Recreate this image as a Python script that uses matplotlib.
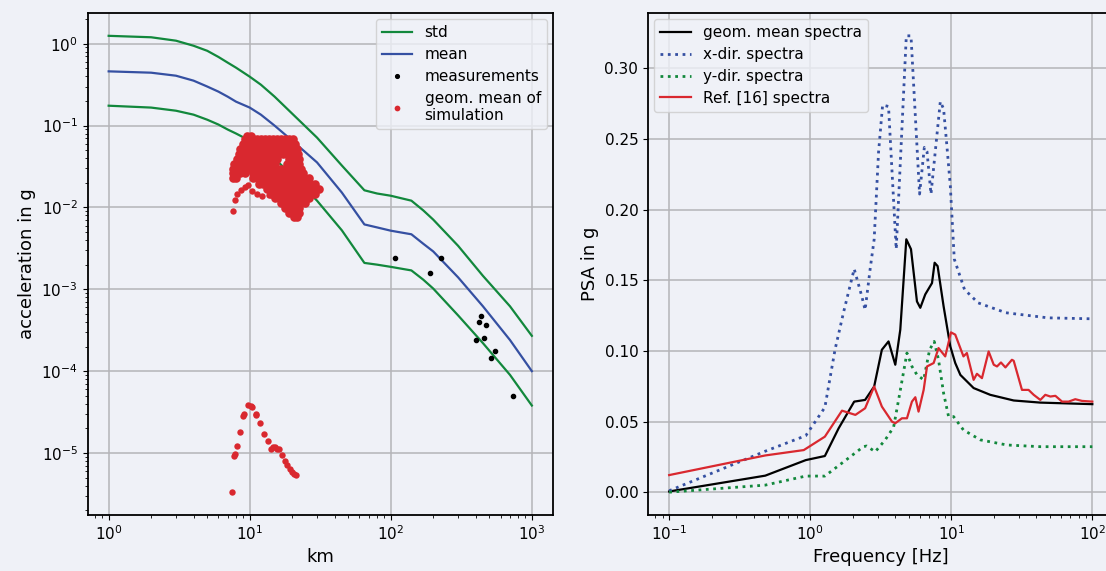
import numpy as np
import matplotlib
matplotlib.use("Agg")
import matplotlib.pyplot as plt

# ---------------- left panel data (distance in km, acceleration in g) ----------------
dist = [1, 2, 3, 4, 5, 6, 7, 8, 10, 12, 15, 20, 30, 45, 65, 80, 100, 140, 170, 200,
        300, 450, 700, 1000]
acc_mean = [0.46, 0.443, 0.407, 0.354, 0.30, 0.26, 0.225, 0.196, 0.166, 0.136, 0.10,
            0.0655, 0.0355, 0.0152, 0.0062, 0.0057, 0.0052, 0.0047, 0.0036, 0.0029,
            0.0014, 6.2e-4, 2.4e-4, 1.0e-4]
acc_std_hi = [1.25, 1.20, 1.09, 0.945, 0.82, 0.69, 0.586, 0.51, 0.396, 0.316, 0.226,
              0.14, 0.0713, 0.0325, 0.0162, 0.0148, 0.0139, 0.0121, 0.0092, 0.0071,
              0.0034, 0.00146, 6.2e-4, 2.7e-4]
acc_std_lo = [0.175, 0.166, 0.152, 0.136, 0.118, 0.103, 0.0893, 0.080, 0.0655, 0.0538,
              0.0396, 0.0245, 0.0121, 0.00525, 0.0021, 0.0020, 0.00188, 0.0017, 0.00131,
              0.00102, 4.8e-4, 2.2e-4, 9.0e-5, 3.8e-5]

meas_dist = [108, 191, 226, 438, 420, 477, 405, 456, 552, 515, 731]
meas_acc = [0.0024, 0.00157, 0.0024, 4.78e-4, 3.93e-4, 3.7e-4, 2.39e-4, 2.55e-4,
            1.75e-4, 1.44e-4, 4.95e-5]

# simulation cloud, read row by row (acceleration of row, distances in row)
blob_acc = [0.0755, 0.0694, 0.0603, 0.0524, 0.0456, 0.0396, 0.0344, 0.0299, 0.0260,
            0.0226, 0.0196, 0.0170, 0.0148, 0.0129, 0.0112, 0.00972, 0.00845, 0.0077]
blob_dist = [
    [9.5, 10.2],
    [9.2, 9.8, 10.5, 11.2, 12.0, 12.8, 13.6, 14.6, 15.5, 16.6, 17.7, 18.9, 20.2],
    [8.9, 9.5, 10.2, 10.8, 11.6, 12.4, 13.2, 14.1, 15.0, 16.1, 17.1, 18.3, 19.5, 20.8],
    [8.6, 9.2, 9.8, 10.5, 11.2, 12.0, 12.8, 13.6, 14.6, 15.5, 16.6, 17.7, 18.9, 20.2, 21.5],
    [8.4, 8.9, 9.5, 10.2, 10.8, 11.6, 12.4, 13.2, 14.1, 15.0, 16.1, 17.1, 18.3, 19.5, 20.8, 21.9],
    [8.1, 8.6, 9.2, 9.8, 10.5, 11.2, 12.0, 12.8, 13.6, 14.6, 15.5, 18.9, 20.2, 21.5, 22.3],
    [7.8, 8.4, 8.9, 9.5, 10.2, 10.8, 11.6, 12.4, 13.2, 14.1, 15.0, 18.3, 19.5, 20.8, 22.3],
    [7.6, 8.1, 8.6, 9.2, 9.8, 10.5, 11.2, 12.0, 12.8, 13.6, 14.6, 15.5, 16.6, 17.7, 18.9,
     20.2, 21.5, 23.0],
    [7.6, 8.1, 8.6, 9.2, 10.5, 11.2, 12.0, 12.8, 13.6, 14.6, 15.5, 16.6, 17.7, 18.9, 20.2,
     21.5, 23.0, 23.8],
    [7.6, 8.0, 10.5, 11.2, 12.0, 12.8, 13.6, 14.6, 15.5, 16.6, 17.7, 18.9, 20.2, 21.5, 23.0,
     24.6, 26.2],
    [11.6, 12.4, 13.2, 14.1, 15.0, 16.1, 17.1, 18.3, 19.5, 20.8, 22.3, 23.8, 25.4, 27.1, 28.9],
    [13.2, 14.1, 15.0, 16.1, 17.1, 18.3, 19.5, 20.8, 22.3, 23.8, 25.4, 27.1, 28.9, 30.9],
    [14.1, 15.0, 16.1, 17.1, 18.3, 19.5, 20.8, 22.3, 23.8, 25.4, 27.1, 28.9],
    [15.0, 16.1, 17.1, 18.3, 19.5, 20.8, 22.3, 23.8, 25.4, 26.2],
    [16.6, 17.7, 18.9, 20.2, 21.5, 23.0, 24.6],
    [17.7, 18.9, 20.2, 21.5, 22.3],
    [18.9, 20.2, 21.5, 22.3],
    [20.5, 21.5],
]
tail_dist = [7.66, 7.83, 8.18, 8.73, 9.22, 9.72, 10.45, 11.21, 12.3, 13.7]
tail_acc = [0.00894, 0.0122, 0.0147, 0.0164, 0.0177, 0.0189, 0.0157, 0.0147, 0.0137, 0.0140]

low_dist = [7.54, 7.74, 7.83, 8.09, 8.54, 9.02, 9.07, 9.72, 10.17, 10.33, 11.03, 11.08,
            11.91, 12.57, 13.48, 14.25, 14.63, 15.11, 15.71, 16.14, 16.87, 17.70, 18.50,
            19.2, 19.95, 20.6, 21.3]
low_acc = [3.32e-6, 9.2e-6, 9.7e-6, 1.23e-5, 1.82e-5, 2.85e-5, 2.99e-5, 3.88e-5, 3.77e-5,
           3.67e-5, 2.99e-5, 2.9e-5, 2.30e-5, 1.70e-5, 1.40e-5, 1.13e-5, 1.17e-5, 1.19e-5,
           1.13e-5, 1.11e-5, 9.46e-6, 7.99e-6, 7.08e-6, 6.32e-6, 5.86e-6, 5.54e-6, 5.43e-6]

# ---------------- right panel data (frequency in Hz, PSA in g) ----------------
f_geo = [0.1, 0.48, 0.93, 1.27, 1.59, 2.05, 2.45, 2.84, 3.22, 3.59, 4.01, 4.35, 4.80, 5.18,
         5.71, 6.03, 6.54, 7.30, 7.62, 8.0, 8.82, 9.84, 10.67, 11.6, 14.4, 18.9, 27.7, 42.8, 100]
psa_geo = [0.0005, 0.0117, 0.0227, 0.0256, 0.0452, 0.0641, 0.0653, 0.0748, 0.1008, 0.1067,
           0.0902, 0.115, 0.179, 0.172, 0.135, 0.1305, 0.140, 0.148, 0.1624, 0.160, 0.1316,
           0.1032, 0.0914, 0.083, 0.0737, 0.0689, 0.0649, 0.0634, 0.0623]

f_x = [0.1, 0.48, 0.93, 1.27, 1.50, 1.72, 2.05, 2.33, 2.45, 2.66, 2.84, 3.05, 3.26, 3.59,
       4.07, 4.80, 5.18, 5.96, 6.44, 6.73, 7.18, 8.36, 8.82, 9.31, 9.84, 10.5, 12.4, 15.5,
       24.4, 48.3, 100]
psa_x = [0.001, 0.029, 0.040, 0.060, 0.101, 0.127, 0.158, 0.138, 0.129, 0.158, 0.179, 0.2405,
         0.274, 0.273, 0.172, 0.323, 0.323, 0.211, 0.244, 0.241, 0.211, 0.2765, 0.2713,
         0.245, 0.217, 0.165, 0.1435, 0.134, 0.127, 0.1234, 0.1227]

f_y = [0.1, 0.48, 0.93, 1.27, 1.79, 2.38, 2.51, 2.89, 3.4, 3.9, 4.23, 4.85, 5.26, 5.71,
       6.37, 7.02, 7.57, 8.12, 8.82, 9.57, 10.38, 12.2, 16.1, 24.8, 42.8, 100]
psa_y = [0.0, 0.005, 0.0114, 0.0114, 0.0227, 0.0322, 0.0327, 0.0286, 0.037, 0.046, 0.0653,
         0.0985, 0.089, 0.0831, 0.0795, 0.1008, 0.1067, 0.0937, 0.0701, 0.0535, 0.0535,
         0.044, 0.037, 0.0334, 0.0322, 0.0322]

f_ref = [0.1, 0.48, 0.90, 1.27, 1.68, 2.09, 2.45, 2.84, 3.22, 3.80, 4.01, 4.47, 4.85, 5.26,
         5.56, 5.86, 6.37, 6.73, 7.50, 8.12, 9.06, 9.95, 10.67, 12.2, 12.9, 14.4, 15.2, 16.5,
         18.4, 20.0, 21.1, 22.5, 24.2, 26.9, 27.7, 31.7, 35.3, 38.4, 42.8, 46.4, 50.4, 54.7,
         61.0, 67.9, 75.7, 84.5, 100]
psa_ref = [0.0121, 0.026, 0.0298, 0.0393, 0.0577, 0.0547, 0.0594, 0.0748, 0.0606, 0.0499,
           0.0488, 0.0523, 0.0523, 0.0641, 0.0672, 0.057, 0.0724, 0.089, 0.0914, 0.102, 0.0961,
           0.1131, 0.1115, 0.0961, 0.0985, 0.0795, 0.0838, 0.0807, 0.0996, 0.0902, 0.089,
           0.0918, 0.0883, 0.0937, 0.093, 0.0724, 0.0724, 0.0689, 0.0653, 0.0689, 0.0677,
           0.0682, 0.0641, 0.0641, 0.0658, 0.0646, 0.0641]

# ---------------- style ----------------
bg = '#eff1f7'
green = '#12883c'
blue = '#3550a2'
red = '#d9282f'
plt.rcParams['font.family'] = ['DejaVu Sans']
plt.rcParams['xtick.labelsize'] = 11
plt.rcParams['ytick.labelsize'] = 11
plt.rcParams['axes.linewidth'] = 1.3

W, H = 1106, 571
fig = plt.figure(figsize=(W / 100, H / 100), dpi=100, facecolor=bg)
ax1 = fig.add_axes([87.5 / W, (H - 515) / H, 465.5 / W, 502 / H])
ax2 = fig.add_axes([648 / W, (H - 515) / H, 465.5 / W, 502 / H])

for ax in (ax1, ax2):
    ax.set_facecolor(bg)
    ax.grid(True, color='#b4b4b8', linewidth=1.1)
    ax.set_axisbelow(True)

# left panel
ax1.plot(dist, acc_std_hi, color=green, lw=1.6, label='std')
ax1.plot(dist, acc_mean, color=blue, lw=1.6, label='mean')
ax1.plot(dist, acc_std_lo, color=green, lw=1.6)
ax1.plot(meas_dist, meas_acc, 'o', color='black', ms=3.0, ls='none', label='measurements')

sim_d, sim_a = [], []
for a, row in zip(blob_acc, blob_dist):
    sim_d += row
    sim_a += [a] * len(row)
ax1.plot(sim_d, sim_a, 'o', color=red, ms=6.2, ls='none', mec='none')
ax1.plot(tail_dist + low_dist, tail_acc + low_acc, 'o', color=red, ms=4.6, ls='none',
         mec='none', label='geom. mean of\nsimulation')
ax1.set_xscale('log')
ax1.set_yscale('log')
ax1.set_xlabel('km', fontsize=13, labelpad=3)
ax1.set_ylabel('acceleration in g', fontsize=13)
leg1 = ax1.legend(loc='upper right', fontsize=11, markerscale=0.9, borderaxespad=0.4,
                  handlelength=2.0, labelspacing=0.45)
leg1.get_frame().set_facecolor(bg)

# right panel
ax2.plot(f_geo, psa_geo, color='black', lw=1.6, label='geom. mean spectra')
ax2.plot(f_x, psa_x, color=blue, lw=2.0, ls=':', label='x-dir. spectra')
ax2.plot(f_y, psa_y, color=green, lw=2.0, ls=':', label='y-dir. spectra')
ax2.plot(f_ref, psa_ref, color=red, lw=1.6, label='Ref. [16] spectra')
ax2.set_xscale('log')
ax2.set_xlabel('Frequency [Hz]', fontsize=13, labelpad=3)
ax2.set_ylabel('PSA in g', fontsize=13)
ax2.set_yticks([0.0, 0.05, 0.10, 0.15, 0.20, 0.25, 0.30])
ax2.set_yticklabels(['0.00', '0.05', '0.10', '0.15', '0.20', '0.25', '0.30'])
leg2 = ax2.legend(loc='upper left', fontsize=11, borderaxespad=0.4, handlelength=2.0,
                  labelspacing=0.45)
leg2.get_frame().set_facecolor(bg)

fig.savefig('out.png', dpi=100, facecolor=bg)
